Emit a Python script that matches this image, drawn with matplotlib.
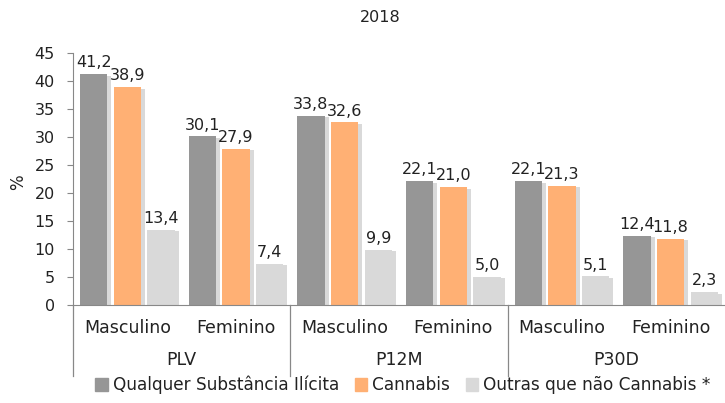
import matplotlib
matplotlib.use("Agg")
import matplotlib.pyplot as plt
import matplotlib.patheffects as pe
import matplotlib.transforms as mtransforms
import numpy as np

groups = ["PLV", "P12M", "P30D"]
sexes = ["Masculino", "Feminino"]
series_names = ["Qualquer Substância Ilícita", "Cannabis", "Outras que não Cannabis *"]
qualquer = [41.2, 30.1, 33.8, 22.1, 22.1, 12.4]
cannabis = [38.9, 27.9, 32.6, 21.0, 21.3, 11.8]
outras = [13.4, 7.4, 9.9, 5.0, 5.1, 2.3]
yticks = [0, 5, 10, 15, 20, 25, 30, 35, 40, 45]

colors = ["#969696", "#FFB074", "#D9D9D9"]

plt.rcParams['font.family'] = ['DejaVu Sans']
fig = plt.figure(figsize=(7.25, 4.03), dpi=100)
ax = fig.add_axes([73/725, 1-305/403, 652/725, 252/403])

x = np.arange(len(qualquer))
offsets = [-0.31, 0.0, 0.31]
width = 0.25
shadow = [pe.SimplePatchShadow(offset=(3, -1), shadow_rgbFace="#000000", alpha=0.15), pe.Normal()]
handles = []
for vals, off, c, name in zip([qualquer, cannabis, outras], offsets, colors, series_names):
    bars = ax.bar(x + off, vals, width, color=c, zorder=2)
    for b in bars:
        b.set_path_effects(shadow)
    handles.append(plt.Rectangle((0, 0), 1, 1, color=c, label=name))
    for xi, v in zip(x + off, vals):
        ax.text(xi, v + 0.7, f"{v:.1f}".replace(".", ","), ha="center", va="bottom",
                fontsize=11.5, color="#222222")

ax.set_xlim(-0.5, 5.5)
ax.set_ylim(0, 45)
ax.set_yticks(yticks)
ax.tick_params(axis="y", labelsize=11.5, length=4, color="#888888", labelcolor="#222222", pad=9)
ax.set_xticks([])
for s in ["top", "right"]:
    ax.spines[s].set_visible(False)
ax.spines["left"].set_color("#888888")
ax.spines["bottom"].set_color("#888888")
fig.text(18/725, 1-182/403, "%", ha="center", va="center", rotation=90, fontsize=12, color="#222222")

trans = mtransforms.blended_transform_factory(ax.transData, ax.transAxes)
labels_sex = [sexes[i % 2] for i in range(len(qualquer))]
for xi, lab in zip(x, labels_sex):
    ax.text(xi, -0.09, lab, transform=trans, ha="center", va="center", fontsize=12.5, color="#222222")
for gi, g in enumerate(groups):
    ax.text(2*gi + 0.5, -0.22, g, transform=trans, ha="center", va="center", fontsize=12.5, color="#222222")
for bx in [-0.5, 1.5, 3.5]:
    ax.plot([bx, bx], [0, -0.28], transform=trans, color="#888888", lw=0.9, clip_on=False)

fig.text(380/725, 1-18/403, "2018", ha="center", va="center", fontsize=11.5, color="#222222")

fig.legend(handles=handles, loc="center", bbox_to_anchor=(403/725, 1-385/403), ncol=3, frameon=False,
           fontsize=12.2, handlelength=0.75, handleheight=0.75, handletextpad=0.3, columnspacing=0.9,
           labelcolor="#222222")

fig.savefig("out.png", dpi=100)
